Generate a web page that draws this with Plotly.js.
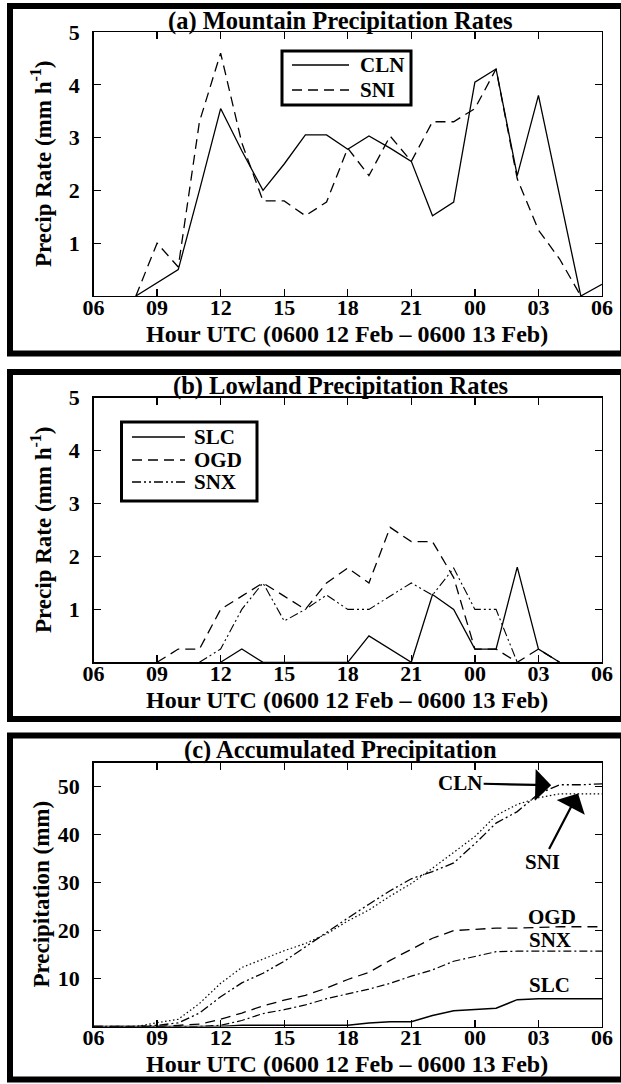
<!DOCTYPE html>
<html><head><meta charset="utf-8">
<script src="https://cdn.plot.ly/plotly-3.0.1.min.js"></script>
<style>html,body{margin:0;padding:0;background:#fff;}#chart{width:621px;height:1084px;}</style>
</head><body><div id="chart"></div>
<script>
// ---- Data (x = hours after 0600 UTC 12 Feb) ----
const tickHours = [0, 3, 6, 9, 12, 15, 18, 21, 24];
const tickLabels = ['06', '09', '12', '15', '18', '21', '00', '03', '06'];

// (a) Mountain precipitation rates (mm/h)
const hoursA_CLN = [2,3,4,5,6,7,8,9,10,11,12,13,14,15,16,17,18,19,20,21,22,23,24];
const rateCLN = [0,0.25,0.5,2.0,3.55,2.75,2.0,2.5,3.05,3.05,2.78,3.03,2.8,2.55,1.52,1.78,4.05,4.3,2.28,3.8,1.9,0,0.22];
const hoursA_SNI = [2,3,4,5,6,7,8,9,10,11,12,13,14,15,16,17,18,19,20,21,22,23];
const rateSNI = [0,1.0,0.55,3.3,4.6,2.9,1.8,1.8,1.52,1.78,2.8,2.28,3.03,2.55,3.3,3.3,3.55,4.3,2.22,1.25,0.7,0];

// (b) Lowland precipitation rates (mm/h)
const hoursB_SLC = [6,7,8,9,10,11,12,13,14,15,16,17,18,19,20,21,22];
const rateSLC = [0,0.25,0,0,0,0,0,0.5,0.25,0,1.28,1.0,0.25,0.25,1.8,0.25,0];
const hoursB_OGD = [3,4,5,6,7,8,9,10,11,12,13,14,15,16,17,18,19,20,21,22];
const rateOGD = [0,0.25,0.25,1.0,1.25,1.5,1.25,1.0,1.5,1.78,1.5,2.55,2.28,2.28,1.6,0.25,0.25,0,0.25,0];
const hoursB_SNX = [5,6,7,8,9,10,11,12,13,14,15,16,17,18,19,20];
const rateSNX = [0,0.25,1.0,1.5,0.78,1.0,1.27,1.0,1.0,1.25,1.5,1.27,1.78,1.0,1.0,0];

// (c) Accumulated precipitation (mm)
const hoursC = [0,1,2,3,4,5,6,7,8,9,10,11,12,13,14,15,16,17,18,19,20,21,22,23,24];
const accCLN = [0,0,0,0.25,0.75,2.8,6.2,9.1,11.1,13.6,16.6,19.7,22.6,25.5,28.3,30.8,32.3,34.1,38.1,42.4,44.8,48.5,50.4,50.4,50.6];
const accSNI = [0,0,0,0.8,1.5,4.8,9.0,12.3,14.1,15.8,17.3,19.3,22.0,24.3,27.2,29.8,33.0,36.3,39.6,44.0,46.3,47.7,48.5,48.5,48.5];
const accOGD = [0,0,0,0,0.25,0.5,1.5,2.8,4.3,5.5,6.5,8.0,9.8,11.3,13.8,16.1,18.4,20.0,20.2,20.5,20.5,20.7,20.8,20.8,20.8];
const accSNX = [0,0,0,0,0,0,0.25,1.25,2.7,3.5,4.5,5.8,6.8,7.8,9.0,10.5,11.8,13.6,14.6,15.6,15.7,15.7,15.7,15.7,15.7];
const accSLC = [0,0,0,0,0,0,0,0.25,0.25,0.25,0.25,0.25,0.25,0.75,1.0,1.0,2.3,3.3,3.5,3.8,5.6,5.8,5.8,5.8,5.8];

// ---- Layout helpers ----
const W = 621, H = 1084;
const px = x => x / W;
const py = y => 1 - y / H;
const FONT = 'Liberation Serif, Times New Roman, serif';
const f = (s) => ({family: FONT, size: s, color: '#000', weight: 'bold'});

const dashMain = '10px,6px';
const dashDDot = '9px,3px,2px,3px,2px,3px';
const dashDot = '8px,3px,2px,3px';
const dotted = '1.5px,2.5px';

function line(dash, w) { return {color: '#000', width: w || 1.3, dash: dash}; }

const traces = [
  {x: hoursA_CLN, y: rateCLN, name: 'CLN', mode: 'lines', line: line('solid'), xaxis: 'x', yaxis: 'y'},
  {x: hoursA_SNI, y: rateSNI, name: 'SNI', mode: 'lines', line: line(dashMain), xaxis: 'x', yaxis: 'y'},
  {x: hoursB_SLC, y: rateSLC, name: 'SLC', mode: 'lines', line: line('solid'), xaxis: 'x2', yaxis: 'y2'},
  {x: hoursB_OGD, y: rateOGD, name: 'OGD', mode: 'lines', line: line(dashMain), xaxis: 'x2', yaxis: 'y2'},
  {x: hoursB_SNX, y: rateSNX, name: 'SNX', mode: 'lines', line: line(dashDDot, 1.1), xaxis: 'x2', yaxis: 'y2'},
  {x: hoursC, y: accSLC, name: 'SLC', mode: 'lines', line: line('solid', 1.5), xaxis: 'x3', yaxis: 'y3'},
  {x: hoursC, y: accSNX, name: 'SNX', mode: 'lines', line: line(dashDot, 1.2), xaxis: 'x3', yaxis: 'y3'},
  {x: hoursC, y: accOGD, name: 'OGD', mode: 'lines', line: line(dashMain, 1.3), xaxis: 'x3', yaxis: 'y3'},
  {x: hoursC, y: accSNI, name: 'SNI', mode: 'lines', line: line(dotted, 1.2), xaxis: 'x3', yaxis: 'y3'},
  {x: hoursC, y: accCLN, name: 'CLN', mode: 'lines', line: line(dashDDot, 1.3), xaxis: 'x3', yaxis: 'y3'}
];
traces.forEach(t => { t.showlegend = false; t.hoverinfo = 'skip'; });

const xDom = [px(93.5), px(602)];
const panels = [
  {top: 32, bot: 296},
  {top: 397.7, bot: 662.3},
  {top: 762.7, bot: 1026.5}
];

function xAxis(anchor, standoff) {
  return {domain: xDom, anchor: anchor, range: [0, 24], tickvals: tickHours, ticktext: tickLabels,
    ticks: 'inside', ticklen: 7, tickwidth: 1.3, tickcolor: '#000', showline: true, linecolor: '#000', linewidth: 1.3,
    mirror: 'ticks', showgrid: false, zeroline: false, tickfont: f(22), ticklabelstandoff: standoff, fixedrange: true};
}
function yAxis(anchor, dom, range, vals) {
  return {domain: dom, anchor: anchor, range: range, tickvals: vals,
    ticks: 'inside', ticklen: 7, tickwidth: 1.3, tickcolor: '#000', showline: true, linecolor: '#000', linewidth: 1.3,
    mirror: 'ticks', showgrid: false, zeroline: false, tickfont: f(22), ticklabelstandoff: 8, fixedrange: true};
}

const yTitlesText = ['Precip Rate (mm h<sup>-1</sup>)', 'Precip Rate (mm h<sup>-1</sup>)', 'Precipitation (mm)'];
const panelTitles = ['(a) Mountain Precipitation Rates', '(b) Lowland Precipitation Rates', '(c) Accumulated Precipitation'];
const xTitleText = 'Hour UTC (0600 12 Feb \u2013 0600 13 Feb)';

const annotations = [];
const shapes = [];
const titleY = [21, 386, 750];
const xTitleY = [334, 700, 1064];
panels.forEach((p, i) => {
  annotations.push({xref: 'paper', yref: 'paper', x: px(340), y: py(titleY[i]), text: panelTitles[i], showarrow: false, xanchor: 'center', yanchor: 'middle', font: f(24.5)});
  annotations.push({xref: 'paper', yref: 'paper', x: px(347), y: py(xTitleY[i]), text: xTitleText, showarrow: false, xanchor: 'center', yanchor: 'middle', font: f(24)});
  annotations.push({xref: 'paper', yref: 'paper', x: px(42), y: py((p.top + p.bot) / 2), text: yTitlesText[i], showarrow: false, textangle: -90, xanchor: 'center', yanchor: 'middle', font: f(23)});
});

// (c) curve labels
annotations.push({xref: 'x3', yref: 'y3', x: 21.6, y: 50.3, ax: -91, ay: -2, text: 'CLN', showarrow: true, arrowhead: 1, arrowsize: 2.4, arrowwidth: 2.2, arrowcolor: '#000', font: f(21)});
annotations.push({xref: 'x3', yref: 'y3', x: 22.87, y: 48.6, ax: -36, ay: 69, text: 'SNI', showarrow: true, arrowhead: 1, arrowsize: 2.4, arrowwidth: 2.2, arrowcolor: '#000', font: f(21)});
annotations.push({xref: 'x3', yref: 'y3', x: 21.64, y: 22.9, text: 'OGD', showarrow: false, font: f(21)});
annotations.push({xref: 'x3', yref: 'y3', x: 21.55, y: 18.0, text: 'SNX', showarrow: false, font: f(21)});
annotations.push({xref: 'x3', yref: 'y3', x: 21.5, y: 8.65, text: 'SLC', showarrow: false, font: f(21)});

// Panel frames
const frames = [[6, 353.5], [372, 719], [735.5, 1079.5]];
frames.forEach(fr => shapes.push({type: 'rect', xref: 'paper', yref: 'paper', x0: px(10), x1: px(623), y0: py(fr[0]), y1: py(fr[1]), line: {color: '#000', width: 6}, fillcolor: 'rgba(0,0,0,0)', layer: 'above'}));

// Legend boxes (keys follow the trace styles)
function legendBox(box, items, lineX0, lineX1, textX) {
  shapes.push({type: 'rect', xref: 'paper', yref: 'paper', x0: px(box[0]), x1: px(box[1]), y0: py(box[2]), y1: py(box[3]), line: {color: '#000', width: 3}, fillcolor: '#fff', layer: 'above'});
  items.forEach(it => {
    const tr = traces[it.trace];
    shapes.push({type: 'line', xref: 'paper', yref: 'paper', x0: px(lineX0), x1: px(lineX1), y0: py(it.y), y1: py(it.y), line: {color: '#000', width: 1.5, dash: tr.line.dash}, layer: 'above'});
    annotations.push({xref: 'paper', yref: 'paper', x: px(textX), y: py(it.y), text: tr.name, showarrow: false, xanchor: 'left', yanchor: 'middle', font: f(21)});
  });
}
legendBox([282, 411, 51, 105], [{trace: 0, y: 65}, {trace: 1, y: 90}], 292, 349, 358);
legendBox([121.5, 257, 422, 501], [{trace: 2, y: 437}, {trace: 3, y: 460}, {trace: 4, y: 482}], 132, 185, 192);

const layout = {
  width: W, height: H, margin: {l: 0, r: 0, t: 0, b: 0}, paper_bgcolor: '#fff', plot_bgcolor: '#fff',
  showlegend: false,
  xaxis: xAxis('y', -9), yaxis: yAxis('x', [py(panels[0].bot), py(panels[0].top)], [0, 5], [1, 2, 3, 4, 5]),
  xaxis2: xAxis('y2', -9), yaxis2: yAxis('x2', [py(panels[1].bot), py(panels[1].top)], [0, 5], [1, 2, 3, 4, 5]),
  xaxis3: xAxis('y3', -9), yaxis3: yAxis('x3', [py(panels[2].bot), py(panels[2].top)], [0, 55], [10, 20, 30, 40, 50]),
  annotations: annotations, shapes: shapes
};

Plotly.newPlot('chart', traces, layout, {displayModeBar: false, staticPlot: true});
</script></body></html>
